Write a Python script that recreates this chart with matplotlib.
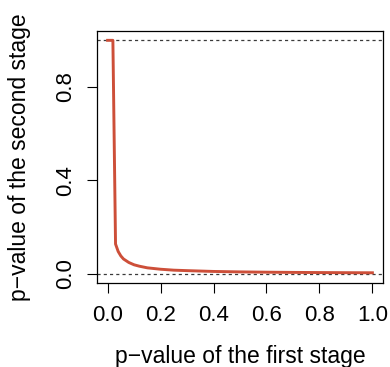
import matplotlib
matplotlib.use("Agg")
import matplotlib.pyplot as plt

plt.rcParams['font.family'] = ['Liberation Sans', 'DejaVu Sans']
plt.rcParams['axes.unicode_minus'] = True

# p-value of first stage vs. second-stage p-value boundary
p1 = [0.0, 0.01, 0.02, 0.03, 0.04, 0.05, 0.06, 0.08, 0.10, 0.12, 0.15,
      0.20, 0.25, 0.30, 0.40, 0.50, 0.60, 0.70, 0.80, 0.90, 1.0]
p2 = [1.0, 1.0, 1.0, 0.127, 0.095, 0.076, 0.063, 0.048, 0.038, 0.032, 0.025,
      0.019, 0.015, 0.013, 0.0095, 0.0076, 0.0063, 0.0054, 0.0048, 0.0042, 0.0038]
xticks = [0.0, 0.2, 0.4, 0.6, 0.8, 1.0]
yticks = [0.0, 0.4, 0.8]
hlines = [0.0, 1.0]

W, H = 390, 367
fig = plt.figure(figsize=(W / 100, H / 100), dpi=100)
ax = fig.add_axes([97 / W, 1 - 283 / H, (383 - 97) / W, (283 - 31) / H])

for h in hlines:
    ax.axhline(h, color="#3a3a3a", lw=0.9, ls=(0, (2.5, 2.5)), zorder=1)
ax.plot(p1, p2, color="#CD4F39", lw=2.1, zorder=2)

ax.set_xlim(-0.04, 1.04)
ax.set_ylim(-0.04, 1.04)
ax.set_xticks(xticks)
ax.set_xticklabels([f"{t:.1f}" for t in xticks])
ax.set_yticks(yticks)
ax.set_yticklabels([f"{t:.1f}" for t in yticks], rotation=90, va="center")
ax.tick_params(labelsize=16, length=7, width=0.8, pad=9, colors="black")
ax.tick_params(axis="y", pad=8)
for s in ax.spines.values():
    s.set_linewidth(0.9)

ax.set_xlabel("p\u2212value of the first stage", fontsize=16.5, va="center")
ax.xaxis.set_label_coords(0.5, (283 - 357) / 252)
ax.set_ylabel("p\u2212value of the second stage", fontsize=16.5, va="center")
ax.yaxis.set_label_coords((20 - 97) / 286, 0.5)

fig.savefig("out.png", dpi=100)
